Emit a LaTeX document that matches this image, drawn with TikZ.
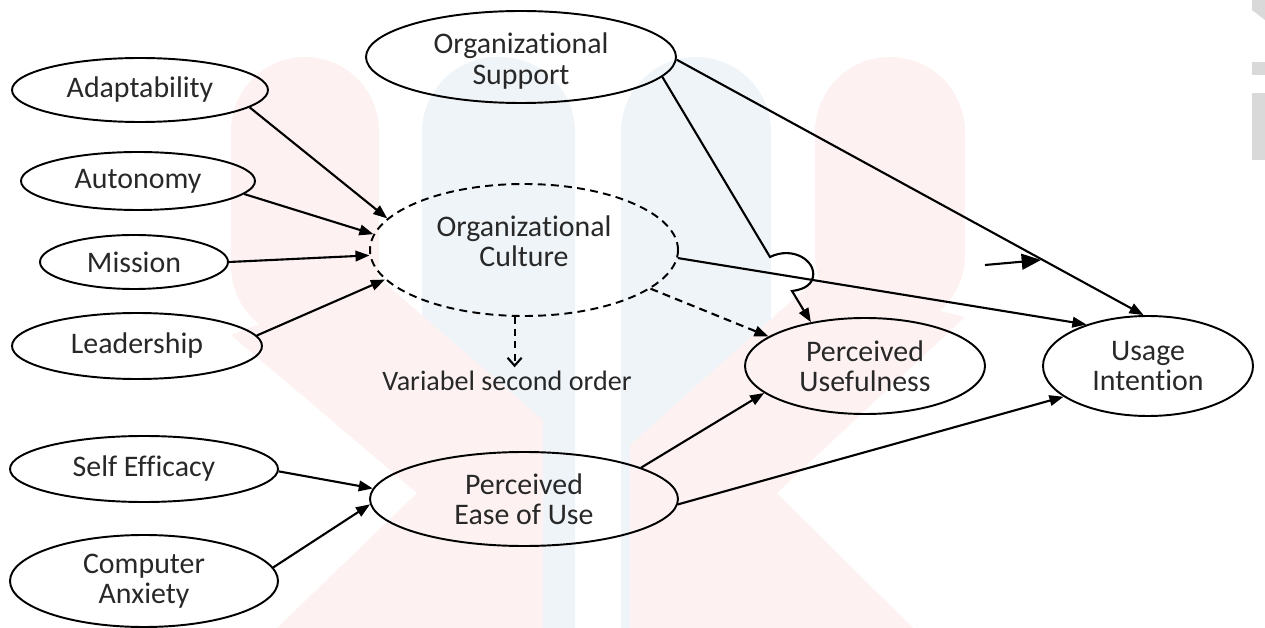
\documentclass[tikz,border=0pt]{standalone}
\usepackage{fontspec}
\setmainfont{Carlito}[Ligatures=NoCommon]
\usetikzlibrary{shapes.geometric,arrows.meta,calc}
\definecolor{wmpink}{RGB}{253,241,241}
\definecolor{wmblue}{RGB}{239,244,249}
\definecolor{edgegray}{RGB}{217,217,217}
\definecolor{ink}{RGB}{40,40,40}
\begin{document}
\begin{tikzpicture}[x=0.02cm,y=-0.02cm,
  dims/.style 2 args={minimum width=#1*0.02cm, minimum height=#2*0.02cm},
  labelfont/.style={font=\fontsize{17}{17.3}\selectfont, text=ink},
  construct/.style={ellipse, draw, line width=1.1pt, inner sep=0pt, align=center, labelfont},
  latent/.style={construct, dash pattern=on 4.5pt off 3pt},
  caption/.style={labelfont, align=center, inner sep=0pt},
  link/.style={line width=1.2pt, -{Triangle[length=8pt,width=6pt]}},
  dlink/.style={link, dash pattern=on 4.5pt off 3pt},
]
\useasboundingbox (0,0) rectangle (1265,628);

% faint background logo
\begin{scope}
  \clip (0,0) rectangle (1265,628);
  \fill[wmblue, rounded corners=1.5cm] (422,700) rectangle (575,57);
  \fill[wmblue, rounded corners=1.5cm] (621,700) rectangle (771,57);
  \fill[wmpink, rounded corners=1.48cm] (231,340) rectangle (379,57);
  \fill[wmpink] (231,335) -- (379,278) -- (543,420) -- (543,628)
               -- (277,628) -- (417,493) -- cycle;
  \fill[wmpink, rounded corners=1.5cm] (815,330) rectangle (965,57);
  \fill[wmpink] (965,317) -- (815,280) -- (630,445) -- (630,628)
               -- (913,628) -- (777,493) -- cycle;
  \fill[edgegray] (1252,0) -- (1265,0) -- (1265,20) -- (1252,10) -- cycle;
  \fill[edgegray] (1252,62) rectangle (1265,75);
  \fill[edgegray] (1252,93) rectangle (1265,160);
\end{scope}

% constructs
\node[construct, dims={256}{64}]  (adapt) at (140,90)   {Adaptability};
\node[construct, dims={234}{58}]  (auto)  at (138,181)  {Autonomy};
\node[construct, dims={188}{54}]  (miss)  at (134,262)  {Mission};
\node[construct, dims={250}{66}]  (lead)  at (137,346)  {Leadership};
\node[construct, dims={268}{66}]  (self)  at (144,469)  {Self Efficacy};
\node[construct, dims={268}{92}]  (anx)   at (144,581)  {Computer\\Anxiety};
\node[construct, dims={310}{92}]  (supp)  at (521,57)   {};
\node[caption] (supptext) at (521,61) {Organizational\\Support};
\node[latent,    dims={308}{132}] (cult)  at (524,250)  {};
\node[caption] (culttext) at (524,241) {Organizational\\Culture};
\node[construct, dims={308}{94}]  (peou)  at (524,499)  {Perceived\\Ease of Use};
\node[construct, dims={240}{96}]  (pu)    at (865,366)  {Perceived\\Usefulness};
\node[construct, dims={210}{100}] (ui)    at (1148,366) {Usage\\Intention};
\node[font=\fontsize{16}{17}\selectfont, text=ink, inner sep=2pt] (var) at (507,381) {Variabel second order};

% dimensions into the second-order construct
\draw[link] (adapt.-9)  -- (cult.167);
\draw[link] (auto.-7)   -- (cult.174.5);
\draw[link] (miss.0)    -- (cult.182);
\draw[link] (lead.5)    -- (cult.192);
\draw[line width=1.2pt, dash pattern=on 4pt off 3pt, -{Straight Barb[length=4.5pt,width=8pt]}]
  (cult.-98) -- (cult.-98 |- var.north);

% antecedents of ease of use
\draw[link] (self.-1) -- (peou.176);
\draw[link] (anx.6)   -- (peou.182);

% structural paths
\draw[link]  (peou.15)  -- (pu.195);
\draw[link]  (peou.-2)  -- (ui.200);
\draw[link]  (cult.-3)  -- (ui.146.5);
\draw[dlink] (cult.-17) -- (pu.163);
\draw[link]  (supp.-1)  -- (ui.95);

% support -> usefulness, hopping over the culture path
\coordinate (hopin)  at (770,257);
\coordinate (hopout) at (792,291);
\draw[link] (supp.-8.4) -- (hopin)
  .. controls (792,246) and (816,260) .. (813,277)
  .. controls (811,287) and (800,290) .. (hopout)
  -- (pu.141.6);

% loose arrow beside the support path
\coordinate (fa) at (985,265);
\coordinate (fb) at (1041,260);
\draw[line width=1.2pt, -{Triangle[length=11pt,width=9pt]}] (fa) -- (fb);
\end{tikzpicture}
\end{document}
